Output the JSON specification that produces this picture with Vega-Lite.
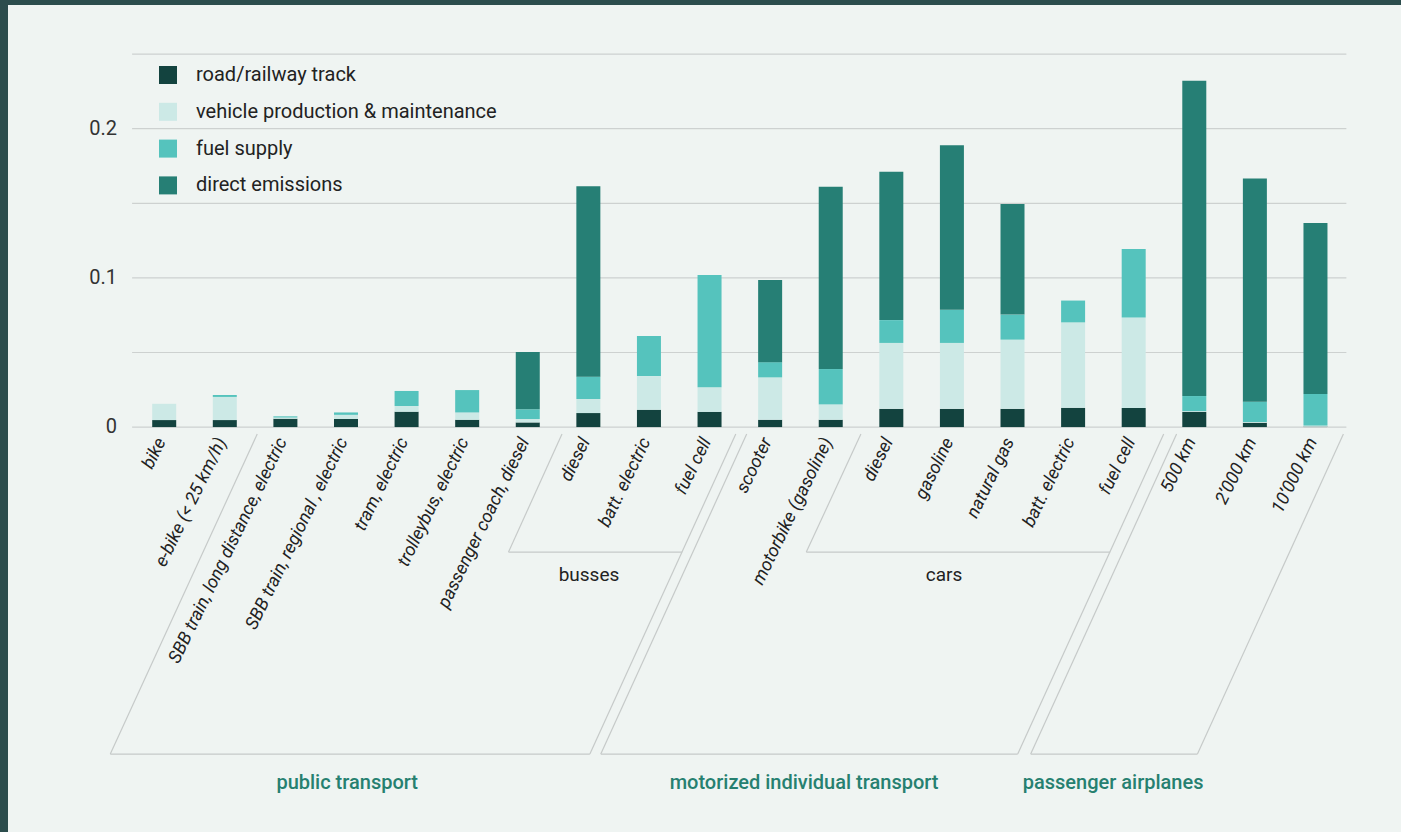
{
  "$schema": "https://vega.github.io/schema/vega-lite/v6.json",
  "width": 1393,
  "height": 827,
  "autosize": {"type": "none"},
  "padding": {"left": 8, "top": 5, "right": 0, "bottom": 0},
  "background": "#2c4d4d",
  "config": {"view": {"fill": "#eff4f2", "stroke": null}, "font": "Roboto"},
  "datasets": {
    "modes": [
      {"i": 0, "name": "bike", "road/railway track": 0.0047, "vehicle production & maintenance": 0.0109, "fuel supply": 0, "direct emissions": 0},
      {"i": 1, "name": "e-bike (< 25 km/h)", "road/railway track": 0.0047, "vehicle production & maintenance": 0.0155, "fuel supply": 0.0013, "direct emissions": 0},
      {"i": 2, "name": "SBB train, long distance, electric", "road/railway track": 0.0056, "vehicle production & maintenance": 0.0008, "fuel supply": 0.0008, "direct emissions": 0},
      {"i": 3, "name": "SBB train, regional , electric", "road/railway track": 0.0054, "vehicle production & maintenance": 0.0028, "fuel supply": 0.0016, "direct emissions": 0},
      {"i": 4, "name": "tram, electric", "road/railway track": 0.0103, "vehicle production & maintenance": 0.0038, "fuel supply": 0.0101, "direct emissions": 0},
      {"i": 5, "name": "trolleybus, electric", "road/railway track": 0.0049, "vehicle production & maintenance": 0.0049, "fuel supply": 0.015, "direct emissions": 0},
      {"i": 6, "name": "passenger coach, diesel", "road/railway track": 0.0031, "vehicle production & maintenance": 0.0023, "fuel supply": 0.0065, "direct emissions": 0.0385},
      {"i": 7, "name": "diesel", "road/railway track": 0.0094, "vehicle production & maintenance": 0.0094, "fuel supply": 0.015, "direct emissions": 0.1276},
      {"i": 8, "name": "batt. electric", "road/railway track": 0.0116, "vehicle production & maintenance": 0.0226, "fuel supply": 0.0268, "direct emissions": 0},
      {"i": 9, "name": "fuel cell", "road/railway track": 0.0102, "vehicle production & maintenance": 0.0165, "fuel supply": 0.0752, "direct emissions": 0},
      {"i": 10, "name": "scooter", "road/railway track": 0.0049, "vehicle production & maintenance": 0.0284, "fuel supply": 0.0102, "direct emissions": 0.0551},
      {"i": 11, "name": "motorbike (gasoline)", "road/railway track": 0.0049, "vehicle production & maintenance": 0.0103, "fuel supply": 0.0237, "direct emissions": 0.1222},
      {"i": 12, "name": "diesel", "road/railway track": 0.0122, "vehicle production & maintenance": 0.0442, "fuel supply": 0.0153, "direct emissions": 0.0995},
      {"i": 13, "name": "gasoline", "road/railway track": 0.0122, "vehicle production & maintenance": 0.0442, "fuel supply": 0.0222, "direct emissions": 0.1103},
      {"i": 14, "name": "natural gas", "road/railway track": 0.0122, "vehicle production & maintenance": 0.0464, "fuel supply": 0.0168, "direct emissions": 0.0741},
      {"i": 15, "name": "batt. electric", "road/railway track": 0.0129, "vehicle production & maintenance": 0.0573, "fuel supply": 0.0146, "direct emissions": 0},
      {"i": 16, "name": "fuel cell", "road/railway track": 0.0128, "vehicle production & maintenance": 0.0606, "fuel supply": 0.0459, "direct emissions": 0},
      {"i": 17, "name": "500 km", "road/railway track": 0.0102, "vehicle production & maintenance": 0.0005, "fuel supply": 0.0101, "direct emissions": 0.2114},
      {"i": 18, "name": "2’000 km", "road/railway track": 0.0029, "vehicle production & maintenance": 0.0005, "fuel supply": 0.0136, "direct emissions": 0.1497},
      {"i": 19, "name": "10’000 km", "road/railway track": 0.0003, "vehicle production & maintenance": 0.0007, "fuel supply": 0.0212, "direct emissions": 0.1146}
    ],
    "parts": [
      {"component": "road/railway track", "rank": 1},
      {"component": "vehicle production & maintenance", "rank": 2},
      {"component": "fuel supply", "rank": 3},
      {"component": "direct emissions", "rank": 4}
    ],
    "grid": [{"v": 0}, {"v": 0.05}, {"v": 0.1}, {"v": 0.15}, {"v": 0.2}, {"v": 0.25}],
    "ylabels": [{"v": 0}, {"v": 0.1}, {"v": 0.2}],
    "brackets": [
      {"x": 1.535, "y": -0.0047, "x2": -0.89, "y2": -0.2192},
      {"x": -0.89, "y": -0.2192, "x2": 7.025, "y2": -0.2192},
      {"x": 7.025, "y": -0.2192, "x2": 9.433, "y2": -0.0047},
      {"x": 6.565, "y": -0.0047, "x2": 5.682, "y2": -0.0838},
      {"x": 5.682, "y": -0.0838, "x2": 8.548, "y2": -0.0838},
      {"x": 9.613, "y": -0.0047, "x2": 7.205, "y2": -0.2192},
      {"x": 7.205, "y": -0.2192, "x2": 14.086, "y2": -0.2192},
      {"x": 14.086, "y": -0.2192, "x2": 16.495, "y2": -0.0047},
      {"x": 11.498, "y": -0.0047, "x2": 10.597, "y2": -0.0838},
      {"x": 10.597, "y": -0.0838, "x2": 15.611, "y2": -0.0838},
      {"x": 16.708, "y": -0.0047, "x2": 14.3, "y2": -0.2192},
      {"x": 14.3, "y": -0.2192, "x2": 17.052, "y2": -0.2192},
      {"x": 17.052, "y": -0.2192, "x2": 19.461, "y2": -0.0047}
    ],
    "subgroups": [
      {"t": "busses", "x": 7.01, "y": -0.0992},
      {"t": "cars", "x": 12.87, "y": -0.0992}
    ],
    "groups": [
      {"t": "public transport", "x": 3.02, "y": -0.2387},
      {"t": "motorized individual transport", "x": 10.56, "y": -0.2387},
      {"t": "passenger airplanes", "x": 15.66, "y": -0.2387}
    ]
  },
  "layer": [
    {
      "data": {"name": "grid"},
      "mark": {"type": "rule", "color": "#cdd1d0", "strokeWidth": 1.2},
      "encoding": {
        "y": {"field": "v", "type": "quantitative", "scale": {"domain": [-0.27146, 0.28294], "nice": false, "zero": false}, "axis": null},
        "x": {"datum": -0.53, "type": "quantitative", "scale": {"domain": [-2.4955, 20.329], "nice": false, "zero": false}, "axis": null},
        "x2": {"datum": 19.51}
      }
    },
    {
      "data": {"name": "modes"},
      "transform": [
        {"fold": ["road/railway track", "vehicle production & maintenance", "fuel supply", "direct emissions"], "as": ["component", "value"]},
        {"lookup": "component", "from": {"data": {"name": "parts"}, "key": "component", "fields": ["rank"]}}
      ],
      "mark": {"type": "bar", "width": 24},
      "encoding": {
        "x": {"field": "i", "type": "quantitative", "axis": null},
        "y": {"field": "value", "type": "quantitative", "stack": "zero", "axis": null},
        "order": {"field": "rank", "type": "quantitative", "sort": "ascending"},
        "color": {
          "field": "component",
          "type": "nominal",
          "scale": {
            "domain": ["road/railway track", "vehicle production & maintenance", "fuel supply", "direct emissions"],
            "range": ["#13433f", "#cce9e6", "#55c3bd", "#267f75"]
          },
          "legend": {
            "orient": "none",
            "legendX": 150,
            "legendY": 60,
            "title": null,
            "padding": 0,
            "symbolType": "square",
            "symbolSize": 324,
            "symbolStrokeWidth": 0,
            "symbolOpacity": 1,
            "labelFontSize": 20,
            "labelFont": "Roboto",
            "labelColor": "#222222",
            "labelOffset": 18,
            "labelLimit": 0,
            "rowPadding": 16.8
          }
        }
      }
    },
    {
      "data": {"name": "modes"},
      "mark": {"type": "text", "angle": 296, "align": "right", "baseline": "middle", "dx": -12, "dy": 3, "fontSize": 18, "fontStyle": "italic", "color": "#222222"},
      "encoding": {
        "x": {"field": "i", "type": "quantitative"},
        "y": {"datum": 0, "type": "quantitative"},
        "text": {"field": "name"}
      }
    },
    {
      "data": {"name": "brackets"},
      "mark": {"type": "rule", "color": "#c6cac9", "strokeWidth": 1.2},
      "encoding": {
        "x": {"field": "x", "type": "quantitative"},
        "x2": {"field": "x2"},
        "y": {"field": "y", "type": "quantitative"},
        "y2": {"field": "y2"}
      }
    },
    {
      "data": {"name": "ylabels"},
      "mark": {"type": "text", "align": "right", "baseline": "middle", "dx": -15, "fontSize": 20, "color": "#333333"},
      "encoding": {
        "x": {"datum": -0.53, "type": "quantitative"},
        "y": {"field": "v", "type": "quantitative"},
        "text": {"field": "v", "type": "quantitative", "format": ".1~f"}
      }
    },
    {
      "data": {"name": "subgroups"},
      "mark": {"type": "text", "align": "center", "baseline": "middle", "fontSize": 19, "color": "#222222"},
      "encoding": {
        "x": {"field": "x", "type": "quantitative"},
        "y": {"field": "y", "type": "quantitative"},
        "text": {"field": "t"}
      }
    },
    {
      "data": {"name": "groups"},
      "mark": {"type": "text", "align": "center", "baseline": "middle", "fontSize": 20, "fontWeight": 500, "color": "#268070"},
      "encoding": {
        "x": {"field": "x", "type": "quantitative"},
        "y": {"field": "y", "type": "quantitative"},
        "text": {"field": "t"}
      }
    }
  ]
}
